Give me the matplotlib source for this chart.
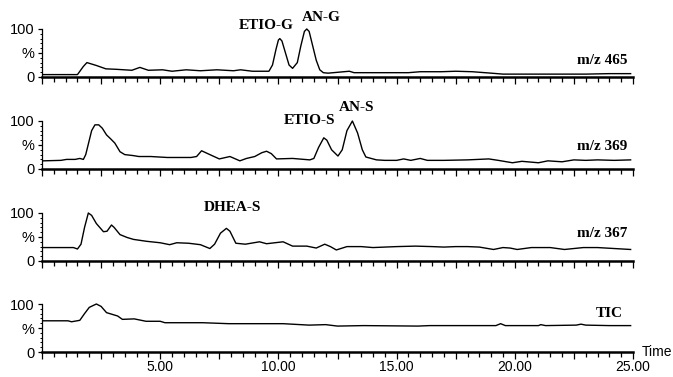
import numpy as np
import matplotlib
matplotlib.use('Agg')
import matplotlib.pyplot as plt
from matplotlib.ticker import MultipleLocator

# m/z 465
t465=[0.05,1.5,1.75,1.9,2.3,2.7,3.15,3.8,4.14,4.5,5.1,5.5,6.1,6.7,7.4,8.1,8.4,8.9,9.5,
      9.6,9.75,9.9,10.0,10.06,10.15,10.3,10.45,10.6,10.8,10.95,11.1,11.2,11.3,11.45,11.6,11.75,11.9,
      12.1,13.0,13.2,13.5,14.5,15.5,16.0,16.9,17.5,18.2,19.0,19.5,21.0,23.0,24.0,24.9]
v465=[5,5,22,30,24,17,16,14,20,14,15,12,15,13,15,13,15,12,12,
      12,25,58,77,80,75,50,25,18,30,65,95,100,95,65,35,15,9,
      8,12,9,9,9,9,11,11,12,11,8,6,6,6,7,7]

# m/z 369
t369=[0.05,0.8,1.04,1.4,1.6,1.75,1.85,2.0,2.1,2.24,2.4,2.55,2.73,2.9,3.08,3.3,3.5,3.85,4.1,4.6,5.3,6.3,
      6.54,6.75,7.1,7.5,7.95,8.37,8.65,9.0,9.3,9.5,9.7,9.92,10.6,11.33,11.5,11.7,11.92,12.05,12.25,12.52,
      12.7,12.9,13.13,13.35,13.55,13.7,14.15,14.5,15.0,15.3,15.6,16.0,16.3,17.0,18.0,18.9,19.3,19.9,20.3,
      21.0,21.4,22.0,22.5,23.0,23.5,24.2,24.9]
v369=[17,18,20,20,22,20,30,60,80,92,92,85,71,63,54,36,30,28,26,26,24,24,
      26,38,30,21,26,17,22,26,34,37,32,21,22,19,22,45,65,60,40,27,
      40,80,100,75,40,25,19,18,18,21,18,22,18,18,19,21,18,13,16,
      13,17,15,19,18,19,18,19]

# m/z 367
t367=[0.05,1.33,1.5,1.65,1.8,1.96,2.1,2.3,2.6,2.75,2.94,3.05,3.3,3.6,3.87,4.43,5.0,5.4,5.7,6.2,6.7,
      7.1,7.3,7.55,7.8,7.95,8.2,8.6,9.2,9.5,10.2,10.6,11.2,11.6,11.96,12.2,12.45,12.9,13.5,14.0,15.0,
      15.8,16.5,17.0,17.5,18.0,18.5,19.1,19.5,19.8,20.1,20.7,21.5,22.1,22.9,23.5,24.9]
v367=[28,28,25,35,70,100,95,78,61,62,75,70,55,49,45,41,38,34,38,37,34,
      26,35,58,68,62,37,35,40,36,40,31,31,27,35,30,23,30,30,28,30,
      31,30,29,30,30,29,24,28,27,24,28,28,24,28,28,24]

# TIC
ttic=[0.05,1.1,1.25,1.6,1.8,2.0,2.3,2.5,2.73,3.2,3.4,3.9,4.4,5.0,5.2,6.8,7.9,10.2,11.3,12.0,12.5,13.6,
      15.9,16.4,19.2,19.4,19.6,21.0,21.1,21.3,22.6,22.8,23.0,24.0,24.9]
vtic=[65,65,63,66,80,93,100,95,82,75,68,69,64,64,61,61,59,59,56,57,54,55,
      54,55,55,59,55,55,57,55,56,58,56,55,55]

traces=[(t465,v465),(t369,v369),(t367,v367),(ttic,vtic)]
names=['m/z 465','m/z 369','m/z 367','TIC']
peaks=[[('ETIO-G',9.47,108),('AN-G',11.8,123)],
       [('ETIO-S',11.33,102),('AN-S',13.3,129)],
       [('DHEA-S',8.07,112)],
       []]
name_x=[24.77,24.77,24.77,24.55]
name_y=[35,46,58,81]
bottoms=[77,169,261,352]

W,H=673,377
fig=plt.figure(figsize=(W/100,H/100),dpi=100)
x0,x1=42/W,633/W
for i in range(4):
    ax=fig.add_axes([x0,1-bottoms[i]/H,x1-x0,48/H])
    t,v=traces[i]
    ax.plot(t,v,color='black',lw=1.0,clip_on=False)
    ax.set_xlim(0,25)
    ax.set_ylim(0,100)
    for s in ['top','right']:
        ax.spines[s].set_visible(False)
    ax.spines['bottom'].set_linewidth(1.8)
    ax.spines['left'].set_linewidth(0.9)
    ax.xaxis.set_major_locator(MultipleLocator(2.5))
    ax.xaxis.set_minor_locator(MultipleLocator(0.5))
    ax.tick_params(axis='x',which='major',length=5,width=0.9,direction='out',pad=0.5)
    ax.tick_params(axis='x',which='minor',length=3.3,width=0.9,direction='out')
    ax.set_yticks([0,50,100])
    ax.set_yticklabels(['0','%','100'],fontfamily='Liberation Sans',fontsize=10.5)
    ax.yaxis.set_minor_locator(MultipleLocator(10))
    ax.tick_params(axis='y',which='major',length=3,width=0.9,pad=2.5)
    ax.tick_params(axis='y',which='minor',length=1.5,width=0.7)
    if i==3:
        ticks=np.arange(0,25.01,2.5)
        ax.set_xticks(ticks)
        ax.set_xticklabels(['%.2f'%x if x%5==0 and x>0 else '' for x in ticks],
                           fontfamily='Liberation Sans',fontsize=10)
        ax.text(25.37,1,'Time',fontfamily='Liberation Sans',fontsize=10,va='center',ha='left',clip_on=False)
    else:
        ax.set_xticklabels([])
    ax.text(name_x[i],name_y[i],names[i],ha='right',va='center',fontfamily='Liberation Serif',
            fontweight='bold',fontsize=11)
    for lab,px,py in peaks[i]:
        ax.text(px,py,lab,ha='center',va='center',fontfamily='Liberation Serif',
                fontweight='bold',fontsize=11,clip_on=False)

plt.savefig('out.png',dpi=100)
